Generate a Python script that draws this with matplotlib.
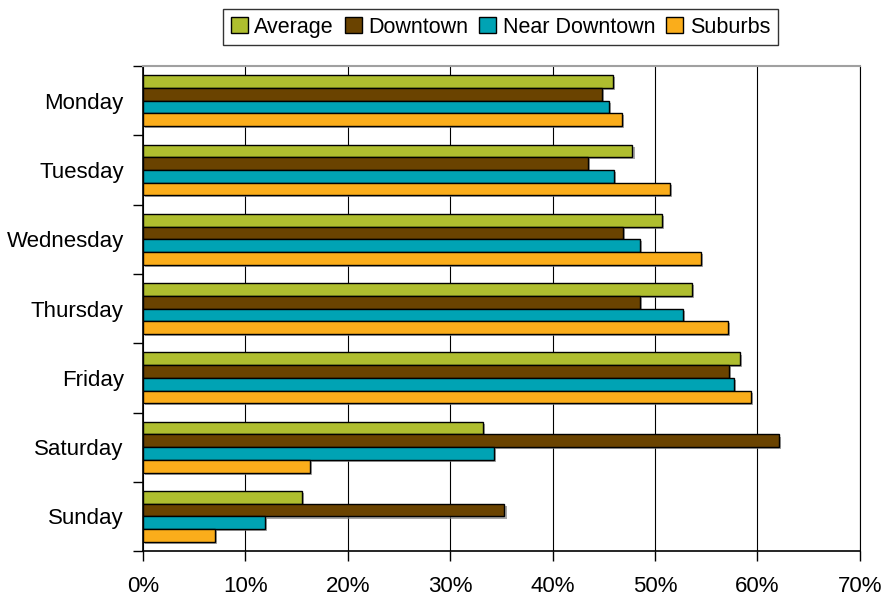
import numpy as np
import matplotlib.pyplot as plt
import matplotlib.patheffects as pe
from matplotlib.ticker import FuncFormatter

plt.rcParams['font.family'] = ['Liberation Sans', 'DejaVu Sans']

# Share of trips by day of week and area
days = ['Monday', 'Tuesday', 'Wednesday', 'Thursday', 'Friday', 'Saturday', 'Sunday']
average = [45.9, 47.8, 50.7, 53.6, 58.3, 33.2, 15.5]
downtown = [44.8, 43.5, 46.9, 48.5, 57.2, 62.1, 35.3]
near_downtown = [45.5, 46.0, 48.5, 52.7, 57.7, 34.3, 11.9]
suburbs = [46.8, 51.5, 54.5, 57.1, 59.4, 16.3, 7.0]

series = [('Average', average, '#AFBE2F'),
          ('Downtown', downtown, '#6A4300'),
          ('Near Downtown', near_downtown, '#00A3B4'),
          ('Suburbs', suburbs, '#FAAD1B')]

fig = plt.figure(figsize=(8.89, 6.05), dpi=100)
ax = fig.add_axes([0.161, 0.089, 0.806, 0.802])

y = np.arange(len(days))
h = 0.183
shadow = [pe.SimplePatchShadow(offset=(1.5, -1.5), shadow_rgbFace='#808080', alpha=0.7),
          pe.Normal()]
for i, (name, vals, color) in enumerate(series):
    bars = ax.barh(y + (i - 1.5) * h, vals, height=h, color=color,
                   edgecolor='black', linewidth=1.0, label=name, zorder=3)
    for b in bars:
        b.set_path_effects(shadow)

ax.set_xlim(0, 70)
ax.set_ylim(len(days) - 0.5, -0.5)
ax.set_xticks(np.arange(0, 71, 10))
ax.xaxis.set_major_formatter(FuncFormatter(lambda v, p: f'{v:.0f}%'))
ax.grid(axis='x', color='black', lw=0.8, zorder=0)

# category boundaries get ticks, names sit at the centres
ax.set_yticks(np.arange(-0.5, len(days), 1.0))
ax.set_yticklabels([])
ax.set_yticks(y, minor=True)
ax.set_yticklabels(days, minor=True)
ax.tick_params(axis='y', which='major', length=7, width=1, direction='out')
ax.tick_params(axis='y', which='minor', length=0, pad=14, labelsize=16)
ax.tick_params(axis='x', length=7, width=1, direction='out', pad=11, labelsize=16)

ax.spines['top'].set_color('#A0A0A0')
ax.spines['top'].set_linewidth(1.5)
ax.spines['right'].set_color('black')
ax.spines['left'].set_linewidth(1.2)
ax.spines['bottom'].set_linewidth(1.2)

leg = fig.legend(loc='upper center', bbox_to_anchor=(0.563, 0.985), ncol=4,
                 fontsize=15.5, frameon=True, fancybox=False, edgecolor='black',
                 handlelength=0.8, handleheight=0.8, handletextpad=0.3,
                 columnspacing=0.5, borderpad=0.35, borderaxespad=0)
leg.get_frame().set_linewidth(1.0)
for hnd in leg.legend_handles:
    hnd.set_path_effects([])

fig.savefig('out.png', dpi=100)
